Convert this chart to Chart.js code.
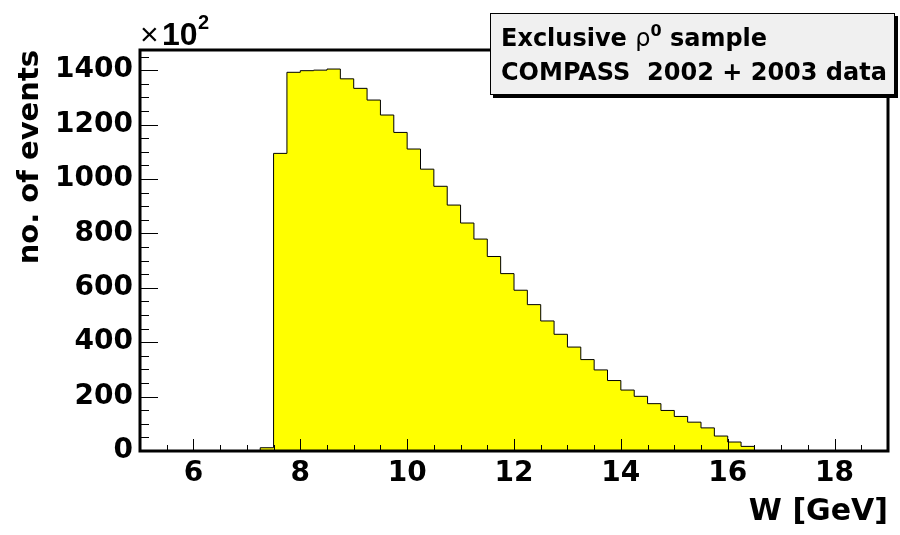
<!DOCTYPE html>
<html>
<head>
<meta charset="utf-8">
<script src="https://cdn.jsdelivr.net/npm/chart.js@4.4.1/dist/chart.umd.min.js"></script>
<style>
html,body{margin:0;padding:0;background:#fff;}
#wrap{position:relative;width:900px;height:535px;overflow:hidden;background:#fff;}
#c{position:absolute;left:0;top:0;}
.legend{position:absolute;left:490px;top:13px;width:403px;height:80px;background:#f0f0f0;border:1px solid #000;box-shadow:3px 3px 0 #000;font-family:'DejaVu Sans';font-weight:bold;font-size:24px;color:#000;}
.legend div{position:absolute;left:10px;white-space:pre;line-height:28px;}
.legend .rho{font-weight:normal;}
.legend sup{font-size:16px;vertical-align:0;position:relative;top:-10px;}
</style>
</head>
<body>
<div id="wrap">
<canvas id="c" width="900" height="535"></canvas>
<div class="legend">
  <div style="top:10px">Exclusive <span class="rho">ρ</span><sup>0</sup> sample</div>
  <div style="top:44px">COMPASS  2002 + 2003 data</div>
</div>
</div>
<script>
// ---- data (counts in units of 10^2 events) ----
const wBinLow = [
  5.00, 5.25, 5.50, 5.75, 6.00, 6.25, 6.50, 6.75, 7.00, 7.25,
  7.50, 7.75, 8.00, 8.25, 8.50, 8.75, 9.00, 9.25, 9.50, 9.75,
  10.00, 10.25, 10.50, 10.75, 11.00, 11.25, 11.50, 11.75, 12.00, 12.25,
  12.50, 12.75, 13.00, 13.25, 13.50, 13.75, 14.00, 14.25, 14.50, 14.75,
  15.00, 15.25, 15.50, 15.75, 16.00, 16.25, 16.50, 16.75, 17.00, 17.25,
  17.50, 17.75, 18.00, 18.25, 18.50, 18.75
];
const counts = [
  0, 0, 0, 0, 0, 0, 0, 0, 0, 12,
  1094, 1392, 1398, 1400, 1404, 1368, 1333, 1290, 1235, 1171,
  1110, 1036, 973, 904, 838, 779, 715, 652, 591, 538,
  478, 429, 382, 336, 298, 259, 224, 201, 174, 149,
  127, 106, 85, 55, 33, 17, 0, 0, 0, 0,
  0, 0, 0, 0, 0, 0
];
const wUpperEdge = 19;
const xTickValues = [6, 8, 10, 12, 14, 16, 18];
const yTickValues = [0, 200, 400, 600, 800, 1000, 1200, 1400];
const xRange = [5, 19];
const yRange = [0, 1474];
const xMinorStep = 0.5, yMinorStep = 50;
const xTitle = 'W [GeV]';
const yTitle = 'no. of events';

// ---- build points (left bin edges, plus closing upper edge) ----
const points = wBinLow.map((x, i) => ({x: x, y: counts[i]}));
points.push({x: wUpperEdge, y: 0});

const framePlugin = {
  id: 'rootFrame',
  afterDatasetsDraw(chart) {
    const ctx = chart.ctx;
    const {left, right, top, bottom} = chart.chartArea;
    const xs = chart.scales.x, ys = chart.scales.y;
    ctx.save();
    ctx.strokeStyle = '#000';
    ctx.lineWidth = 1;
    ctx.beginPath();
    for (let v = xRange[0] + xMinorStep; v < xRange[1]; v += xMinorStep) {
      const px = Math.round(xs.getPixelForValue(v)) + 0.5;
      const major = xTickValues.includes(v);
      ctx.moveTo(px, bottom);
      ctx.lineTo(px, bottom - (major ? 12 : 6));
    }
    for (let v = yRange[0]; v < yRange[1]; v += yMinorStep) {
      const py = Math.round(ys.getPixelForValue(v)) + 0.5;
      const major = yTickValues.includes(v);
      ctx.moveTo(left, py);
      ctx.lineTo(left + (major ? 18 : 9), py);
    }
    ctx.stroke();
    ctx.lineWidth = 3;
    ctx.strokeRect(left, top, right - left, bottom - top);
    ctx.restore();
  },
  afterDraw(chart) {
    const ctx = chart.ctx;
    ctx.save();
    ctx.fillStyle = '#000';
    ctx.textBaseline = 'alphabetic';
    ctx.textAlign = 'left';
    ctx.font = 'normal 32px "Liberation Sans"';
    ctx.fillText('\u00d7', 140, 45);
    ctx.font = 'bold 32px "Liberation Sans"';
    ctx.fillText('10', 162, 45);
    ctx.font = 'bold 20px "Liberation Sans"';
    ctx.fillText('2', 198, 29);
    ctx.restore();
  }
};

Chart.defaults.font.family = "'DejaVu Sans'";
Chart.defaults.color = '#000';

new Chart(document.getElementById('c'), {
  type: 'line',
  data: {
    datasets: [{
      data: points,
      stepped: 'before',
      fill: 'origin',
      backgroundColor: '#ffff00',
      borderColor: '#000',
      borderWidth: 1,
      pointRadius: 0,
      tension: 0
    }]
  },
  options: {
    responsive: false,
    devicePixelRatio: 1,
    animation: false,
    layout: {padding: {left: 13, right: 12, top: 50, bottom: 0}},
    plugins: {legend: {display: false}, tooltip: {enabled: false}},
    scales: {
      x: {
        type: 'linear',
        position: 'bottom',
        min: xRange[0],
        max: xRange[1],
        afterFit: s => { s.height = 84; },
        afterBuildTicks: s => { s.ticks = xTickValues.map(v => ({value: v})); },
        grid: {display: false, drawTicks: false},
        border: {display: false},
        ticks: {font: {size: 28, weight: 'bold'}, color: '#000', padding: 6, maxRotation: 0, autoSkip: false,
                callback: v => String(v)},
        title: {display: true, text: xTitle, align: 'end', color: '#000',
                font: {size: 30, weight: 'bold'}, padding: {top: 0, bottom: 5}}
      },
      y: {
        type: 'linear',
        position: 'left',
        min: yRange[0],
        max: yRange[1],
        afterFit: s => { s.width = 127; },
        afterBuildTicks: s => { s.ticks = yTickValues.map(v => ({value: v})); },
        grid: {display: false, drawTicks: false},
        border: {display: false},
        ticks: {font: {size: 28, weight: 'bold'}, color: '#000', padding: 7, autoSkip: false,
                callback: v => String(v)},
        title: {display: true, text: yTitle, align: 'end', color: '#000',
                font: {size: 29, weight: 'bold'}, padding: {top: 0, bottom: 0}}
      }
    }
  },
  plugins: [framePlugin]
});
</script>
</body>
</html>
